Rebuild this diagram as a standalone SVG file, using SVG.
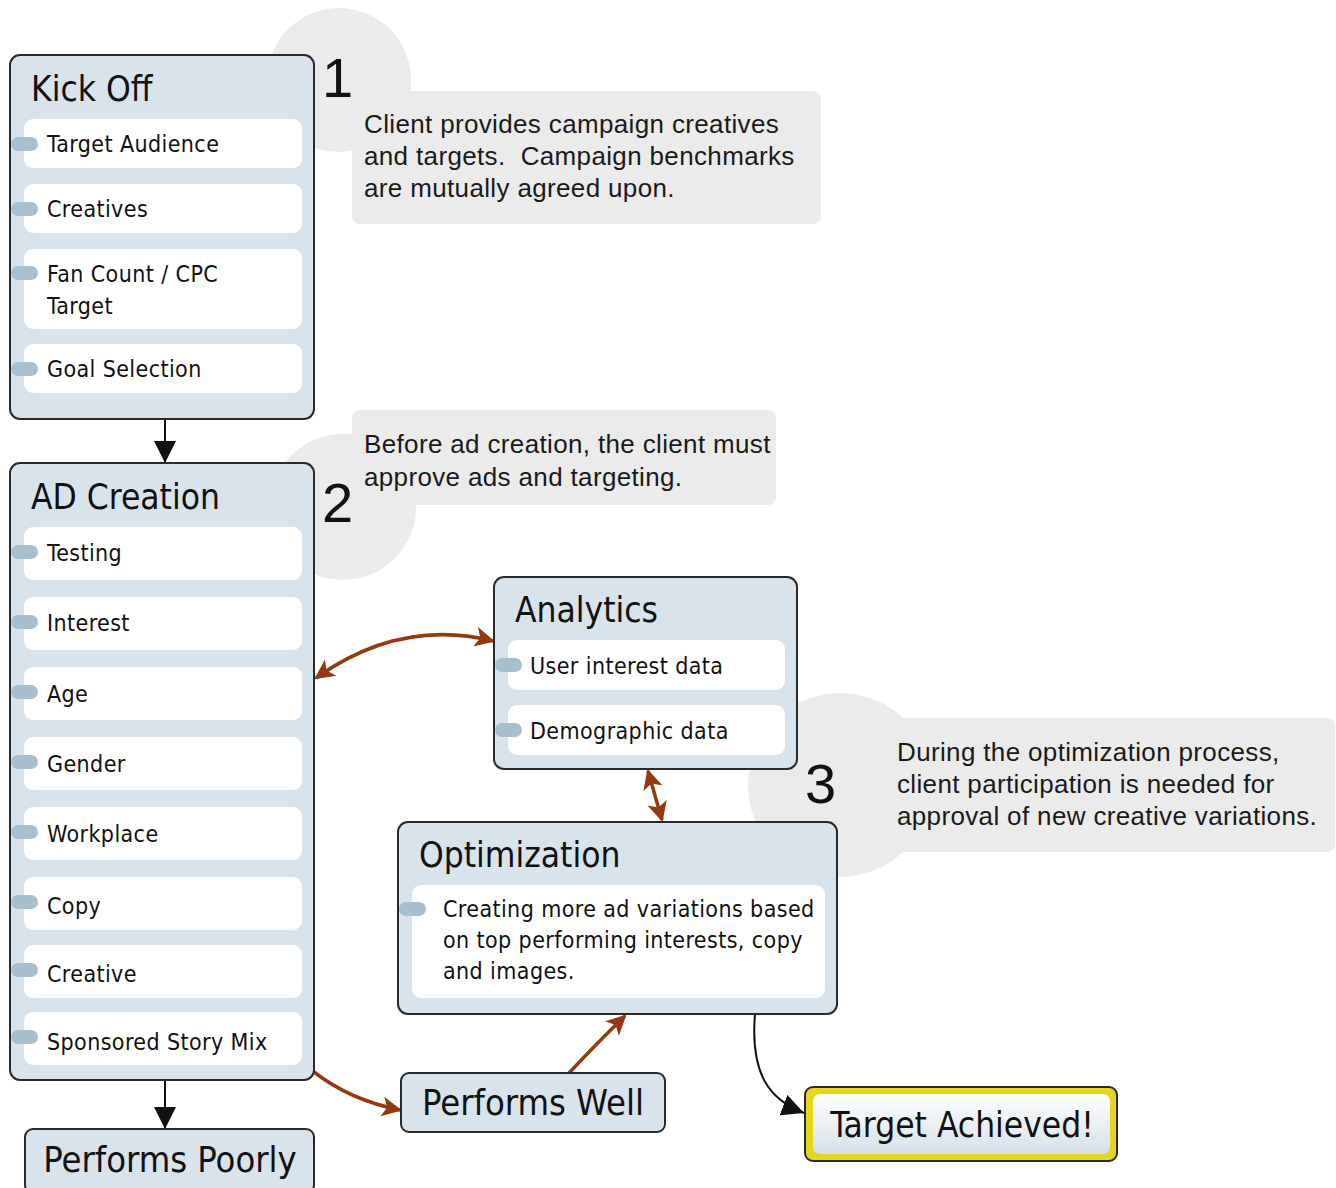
<svg xmlns="http://www.w3.org/2000/svg" width="1336" height="1188" viewBox="0 0 1336 1188">
<defs>
<style>
.bg{fill:#ffffff}
.blob{fill:#ebebeb}
.callout{fill:#ebebeb}
.ctext{font-family:"Liberation Sans",Arial,sans-serif;font-size:26px;letter-spacing:0.35px;fill:#1a1a1a}
.num{font-family:"Liberation Sans",Arial,sans-serif;font-size:56px;fill:#111}
.node{fill:#d9e3ec;stroke:#2a2a2a;stroke-width:2}
.item{fill:#ffffff}
.tab{fill:#a8bfcf}
.title{font-family:"DejaVu Sans Condensed","DejaVu Sans",sans-serif;font-stretch:condensed;font-size:35px;fill:#111}
.itext{font-family:"DejaVu Sans Condensed","DejaVu Sans",sans-serif;font-stretch:condensed;font-size:23px;letter-spacing:0.4px;fill:#111}
.big{font-family:"DejaVu Sans Condensed","DejaVu Sans",sans-serif;font-stretch:condensed;font-size:36px;fill:#111}
.blk{fill:none;stroke:#111;stroke-width:2}
.brn{fill:none;stroke:#933a10;stroke-width:3.5}
</style>
<marker id="abk" viewBox="0 0 10 10" refX="10" refY="5" markerWidth="22" markerHeight="22" markerUnits="userSpaceOnUse" orient="auto"><path d="M0,0 L10,5 L0,10 z" fill="#111"/></marker>
<marker id="abr" viewBox="0 0 10 10" refX="9" refY="5" markerWidth="22" markerHeight="20" markerUnits="userSpaceOnUse" orient="auto"><path d="M0,0 L10,5 L0,10 L2.5,5 z" fill="#933a10"/></marker>
<marker id="abrs" viewBox="0 0 10 10" refX="1" refY="5" markerWidth="22" markerHeight="20" markerUnits="userSpaceOnUse" orient="auto"><path d="M10,0 L0,5 L10,10 L7.5,5 z" fill="#933a10"/></marker>
<linearGradient id="tg" x1="0" y1="0" x2="0" y2="1"><stop offset="0" stop-color="#ffffff"/><stop offset="1" stop-color="#d6e0ea"/></linearGradient>
</defs>
<rect class="bg" x="0" y="0" width="1336" height="1188"/>

<g id="callout1">
<circle class="blob" cx="339" cy="80" r="72"/>
<rect class="callout" x="352" y="91" width="469" height="133" rx="8"/>
<text class="num" x="322" y="97">1</text>
<text class="ctext" x="364" y="133">Client provides campaign creatives</text>
<text class="ctext" x="364" y="165" xml:space="preserve">and targets.  Campaign benchmarks</text>
<text class="ctext" x="364" y="197">are mutually agreed upon.</text>
</g>

<g id="callout2">
<circle class="blob" cx="343" cy="507" r="73"/>
<rect class="callout" x="352" y="410" width="424" height="95" rx="8"/>
<text class="num" x="322" y="522">2</text>
<text class="ctext" x="364" y="453">Before ad creation, the client must</text>
<text class="ctext" x="364" y="486">approve ads and targeting.</text>
</g>

<g id="callout3">
<circle class="blob" cx="840" cy="785" r="92"/>
<rect class="callout" x="883" y="718" width="452" height="134" rx="8"/>
<text class="num" x="805" y="803">3</text>
<text class="ctext" x="897" y="761">During the optimization process,</text>
<text class="ctext" x="897" y="793">client participation is needed for</text>
<text class="ctext" x="897" y="825">approval of new creative variations.</text>
</g>

<g id="connectors">
<path class="blk" d="M165,419 L165,463" marker-end="url(#abk)"/>
<path class="blk" d="M165,1080 L165,1129" marker-end="url(#abk)"/>
<path class="brn" d="M316,678 Q400,618 493,641" marker-start="url(#abrs)" marker-end="url(#abr)"/>
<path class="brn" d="M648,771 L662,820" marker-start="url(#abrs)" marker-end="url(#abr)"/>
<path class="brn" d="M314,1072 Q350,1100 400,1110" marker-end="url(#abr)"/>
<path class="brn" d="M569,1073 Q600,1040 625,1016" marker-end="url(#abr)"/>
<path class="blk" d="M755,1014 C750,1075 770,1100 804,1113" marker-end="url(#abk)"/>
</g>

<g id="kickoff">
<rect class="node" x="10" y="55" width="304" height="364" rx="10"/>
<text class="title" x="31" y="101">Kick Off</text>
<rect class="item" x="24" y="119" width="278" height="49" rx="9"/>
<rect class="tab" x="11" y="137" width="27" height="14" rx="7"/>
<text class="itext" x="47" y="152">Target Audience</text>
<rect class="item" x="24" y="184" width="278" height="49" rx="9"/>
<rect class="tab" x="11" y="202" width="27" height="14" rx="7"/>
<text class="itext" x="47" y="217">Creatives</text>
<rect class="item" x="24" y="249" width="278" height="80" rx="9"/>
<rect class="tab" x="11" y="266" width="27" height="14" rx="7"/>
<text class="itext" x="47" y="282">Fan Count / CPC</text>
<text class="itext" x="47" y="314">Target</text>
<rect class="item" x="24" y="344" width="278" height="49" rx="9"/>
<rect class="tab" x="11" y="362" width="27" height="14" rx="7"/>
<text class="itext" x="47" y="377">Goal Selection</text>
</g>

<g id="adcreation">
<rect class="node" x="10" y="463" width="304" height="617" rx="10"/>
<text class="title" x="31" y="509">AD Creation</text>
<rect class="item" x="24" y="527" width="278" height="53" rx="9"/>
<rect class="tab" x="11" y="545" width="27" height="14" rx="7"/>
<text class="itext" x="47" y="561">Testing</text>
<rect class="item" x="24" y="597" width="278" height="53" rx="9"/>
<rect class="tab" x="11" y="615" width="27" height="14" rx="7"/>
<text class="itext" x="47" y="631">Interest</text>
<rect class="item" x="24" y="667" width="278" height="53" rx="9"/>
<rect class="tab" x="11" y="685" width="27" height="14" rx="7"/>
<text class="itext" x="47" y="702">Age</text>
<rect class="item" x="24" y="737" width="278" height="53" rx="9"/>
<rect class="tab" x="11" y="755" width="27" height="14" rx="7"/>
<text class="itext" x="47" y="772">Gender</text>
<rect class="item" x="24" y="807" width="278" height="53" rx="9"/>
<rect class="tab" x="11" y="825" width="27" height="14" rx="7"/>
<text class="itext" x="47" y="842">Workplace</text>
<rect class="item" x="24" y="877" width="278" height="53" rx="9"/>
<rect class="tab" x="11" y="895" width="27" height="14" rx="7"/>
<text class="itext" x="47" y="914">Copy</text>
<rect class="item" x="24" y="945" width="278" height="53" rx="9"/>
<rect class="tab" x="11" y="963" width="27" height="14" rx="7"/>
<text class="itext" x="47" y="982">Creative</text>
<rect class="item" x="24" y="1012" width="278" height="53" rx="9"/>
<rect class="tab" x="11" y="1030" width="27" height="14" rx="7"/>
<text class="itext" x="47" y="1050">Sponsored Story Mix</text>
</g>

<g id="analytics">
<rect class="node" x="494" y="577" width="303" height="192" rx="10"/>
<text class="title" x="515" y="622">Analytics</text>
<rect class="item" x="508" y="640" width="277" height="50" rx="9"/>
<rect class="tab" x="495" y="658" width="27" height="14" rx="7"/>
<text class="itext" x="530" y="674">User interest data</text>
<rect class="item" x="508" y="705" width="277" height="50" rx="9"/>
<rect class="tab" x="495" y="723" width="27" height="14" rx="7"/>
<text class="itext" x="530" y="739">Demographic data</text>
</g>

<g id="optimization">
<rect class="node" x="398" y="822" width="439" height="192" rx="10"/>
<text class="title" x="419" y="867">Optimization</text>
<rect class="item" x="412" y="885" width="413" height="113" rx="9"/>
<rect class="tab" x="399" y="902" width="27" height="14" rx="7"/>
<text class="itext" x="443" y="917">Creating more ad variations based</text>
<text class="itext" x="443" y="948">on top performing interests, copy</text>
<text class="itext" x="443" y="979">and images.</text>
</g>

<g id="performswell">
<rect class="node" x="401" y="1073" width="264" height="59" rx="8"/>
<text class="big" x="533" y="1115" text-anchor="middle">Performs Well</text>
</g>

<g id="performspoorly">
<rect class="node" x="25" y="1129" width="289" height="64" rx="8"/>
<text class="big" x="170" y="1172" text-anchor="middle">Performs Poorly</text>
</g>

<g id="targetachieved">
<rect x="805" y="1087" width="312" height="74" rx="8" fill="#e6d51e" stroke="#2a2a2a" stroke-width="2"/>
<rect x="813" y="1094" width="297" height="60" rx="7" fill="url(#tg)"/>
<text class="big" x="962" y="1137" text-anchor="middle" style="font-size:35px">Target Achieved!</text>
</g>
</svg>
